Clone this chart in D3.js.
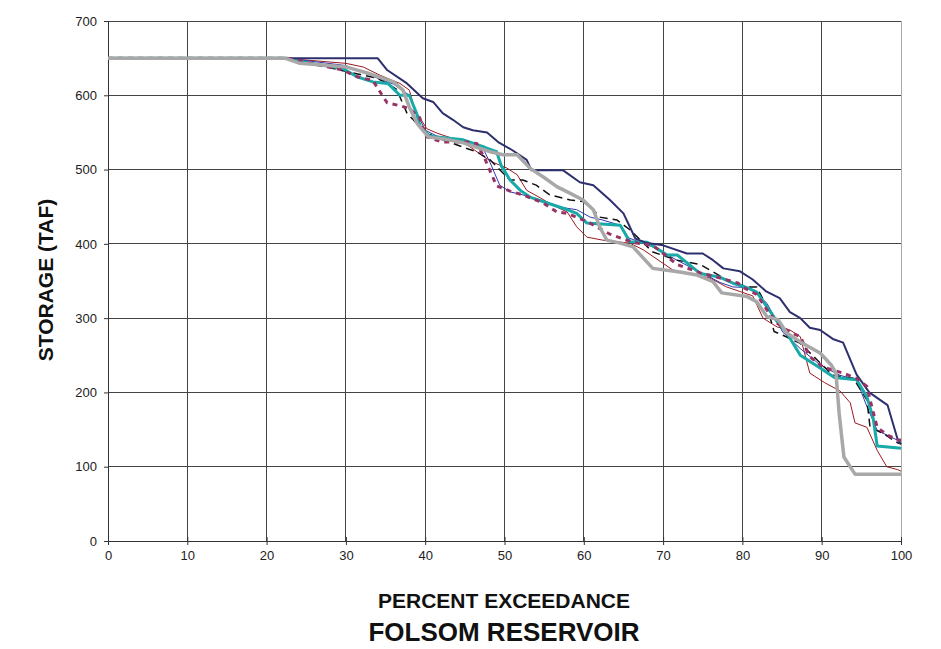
<!DOCTYPE html>
<html><head><meta charset="utf-8">
<script src="https://cdn.jsdelivr.net/npm/d3@7"></script>
<style>
body{margin:0;background:#fff;}
text{font-family:"Liberation Sans",Arial,sans-serif;}
</style></head>
<body><svg id="c" width="941" height="649"></svg>
<script>
const xTicks = [0,10,20,30,40,50,60,70,80,90,100];
const yTicks = [0,100,200,300,400,500,600,700];

const navyX = [0,34,35.2,37.7,39.7,41,42.2,43.5,44.8,46,47.8,49.2,51,52.8,53.4,57.4,59.5,61.2,63.3,65,65.8,66.5,68,70,73,75,76.3,77.6,79.7,81.3,83,84.7,86,87.3,88.5,89.8,91.4,92.7,94.4,96,98.3,99.6,100];
const navyY = [650,650,634,616,596,591,576,567,557,553,550,537,526,513,499,499,483,479,459,441,423,407,401,398,387,387,378,367,363,352,336,327,308,300,287,284,272,267,224,200,183,136,130];

const grayX = [0,22.3,24.2,30.1,32.7,36,37.2,38,39,40.4,43,44.8,48.2,49.8,51.6,53.2,54.9,56.6,58.3,59.9,61.2,62,62.9,64.6,66.2,68.7,72.1,74.3,76.3,77.4,80.6,81.8,83.1,84.5,85.6,87.3,89.8,91.2,91.8,92.2,92.8,94.2,100];
const grayY = [650,650,643,638,630,618,607,584,562,544,540,536,524,520,520,502,490,477,468,459,446,423,405,401,396,367,362,358,349,334,329,322,302,298,280,268,253,237,226,172,113,90,90];

const tealX = [0,22.6,25.5,29.6,31.4,33.4,35.3,36.8,38,38.9,39.4,40.6,44.8,47.5,49,49.6,50.7,52,53.2,55.4,57.4,59.1,60.4,64.6,65.8,68,70.5,71.8,74.7,77.2,78.8,80.6,81.8,83.3,84.4,85.6,87.3,89.8,91.6,94.4,95.7,96.5,97,100];
const tealY = [650,650,643,636,625,618,616,600,600,576,557,545,540,530,524,505,486,472,463,455,448,441,428,425,403,402,385,385,360,355,347,341,335,312,295,280,250,233,220,217,194,165,128,125];

const redX = [0,22,30,32.2,34.3,36.8,38,38.7,40.2,41.5,44,45.6,47.3,48.5,50.3,51.6,52.8,54.5,56.1,57.9,59.1,60.4,62.4,65.8,67.5,71.2,75.9,78,81.3,82.6,84.4,86,87.3,88.5,90.4,92.3,93.6,94.2,95.7,97,98.2,99.6,100];
const redY = [650,650,643,638,627,616,607,580,555,549,540,531,518,510,502,493,472,462,452,443,423,409,405,401,392,365,354,342,330,300,288,284,275,226,213,202,186,159,153,122,100,96,94];

const blueX = [0,22.5,30,33.5,36,38,39,40,41.5,44.8,47.3,48.2,49.4,50.7,52.3,54.5,56.6,59.1,60.8,62.4,64.6,65.4,68.7,72.1,77.2,78.8,81,83.1,85.1,87.3,89.8,92.3,94.4,95.7,97,99.5,100];
const blueY = [650,650,640,625,615,600,575,553,545,538,528,509,479,470,466,459,450,446,436,432,425,409,396,376,348,342,341,320,281,259,237,223,217,181,149,136,133];

const blackX = [0,22.5,26.7,28.4,30.1,33.9,35.2,36.4,37.7,38.5,39.7,41,44.8,46.5,48.2,50.3,50.7,52.3,54,55.7,58.3,59.9,61.2,62,64.2,65.8,68.7,71.8,74.7,78.8,81,81.8,83.1,84,85.1,87.3,89.4,91.4,94,95.7,96.1,97.7,99.6,100];
const blackY = [650,650,641,636,632,623,616,608,576,567,553,545,530,524,513,490,486,486,479,466,459,457,446,436,432,419,389,378,372,347,342,342,315,282,277,266,244,223,219,190,153,145,132,131];

const purpleX = [0,22.5,26,29.6,31.4,33.4,34.4,35.2,36.8,38,39.3,39.7,40.2,42.2,45.3,46.5,47.5,49,50.7,52.3,54.9,56.6,57.9,60.4,63.3,66.2,68.7,71.8,74.7,77.2,79.5,80,81.8,83.1,84.4,86,87.3,88.5,90.2,92.7,94.4,95.7,96.1,97,98.2,99.6,100];
const purpleY = [650,650,642,634,625,620,603,590,586,582,570,557,544,537,537,535,515,478,471,466,455,443,441,430,413,402,398,372,361,354,347,342,332,311,293,281,275,248,234,226,219,208,190,153,143,136,136];

const series = [
  {x:redX, y:redY, color:"#9b1b1f", w:1, dash:null},
  {x:blueX, y:blueY, color:"#3535b0", w:1, dash:null},
  {x:blackX, y:blackY, color:"#111", w:1.5, dash:"8,5"},
  {x:tealX, y:tealY, color:"#17aaa8", w:3, dash:null},
  {x:navyX, y:navyY, color:"#2e306e", w:2, dash:null},
  {x:purpleX, y:purpleY, color:"#993366", w:3, dash:"5,5"},
  {x:grayX, y:grayY, color:"#a8a8a8", w:3.5, dash:null}
];

const svg = d3.select("#c");
const L=108, R=901, T=21, B=541;
const x = d3.scaleLinear().domain([0,100]).range([L,R]);
const y = d3.scaleLinear().domain([0,700]).range([B,T]);

// grid
svg.append("g").selectAll("line").data(xTicks.slice(1,-1)).join("line")
  .attr("x1",d=>x(d)).attr("x2",d=>x(d)).attr("y1",T).attr("y2",B)
  .attr("stroke","#444").attr("stroke-width",1).attr("shape-rendering","crispEdges");
svg.append("g").selectAll("line").data(yTicks.slice(1)).join("line")
  .attr("x1",L).attr("x2",R).attr("y1",d=>y(d)).attr("y2",d=>y(d))
  .attr("stroke","#444").attr("stroke-width",1).attr("shape-rendering","crispEdges");
svg.append("line").attr("x1",R).attr("x2",R).attr("y1",T).attr("y2",B)
  .attr("stroke","#aaa").attr("stroke-width",1).attr("shape-rendering","crispEdges");

// axes
const xAxis = d3.axisBottom(x).tickValues(xTicks).tickSize(4).tickPadding(6);
const gx = svg.append("g").attr("transform",`translate(0,${B})`).call(xAxis);
gx.select(".domain").attr("stroke","#333");
gx.selectAll(".tick line").attr("stroke","#333").attr("y1",-4);
gx.selectAll("text").attr("font-size","13px").attr("fill","#222").attr("font-family","Liberation Sans, Arial, sans-serif");

const yAxis = d3.axisLeft(y).tickValues(yTicks).tickSize(4).tickPadding(7);
const gy = svg.append("g").attr("transform",`translate(${L},0)`).call(yAxis);
gy.select(".domain").attr("stroke","#333");
gy.selectAll(".tick line").attr("stroke","#333");
gy.selectAll("text").attr("font-size","13px").attr("fill","#222").attr("font-family","Liberation Sans, Arial, sans-serif");

// lines
const line = d3.line().x(d=>x(d[0])).y(d=>y(d[1]));
series.forEach(s=>{
  const pts = s.x.map((v,i)=>[v,s.y[i]]);
  svg.append("path").datum(pts).attr("d",line)
    .attr("fill","none").attr("stroke",s.color).attr("stroke-width",s.w)
    .attr("stroke-linejoin","round")
    .attr("stroke-dasharray",s.dash);
});

// labels
svg.append("text").attr("x",504).attr("y",608).attr("text-anchor","middle")
  .attr("font-size","21px").attr("font-weight","bold").attr("fill","#111").text("PERCENT EXCEEDANCE");
svg.append("text").attr("x",504).attr("y",641).attr("text-anchor","middle")
  .attr("font-size","26px").attr("font-weight","bold").attr("fill","#111").text("FOLSOM RESERVOIR");
svg.append("text").attr("transform","translate(53,280) rotate(-90)").attr("text-anchor","middle")
  .attr("font-size","21px").attr("font-weight","bold").attr("fill","#111").text("STORAGE (TAF)");
</script></body></html>
